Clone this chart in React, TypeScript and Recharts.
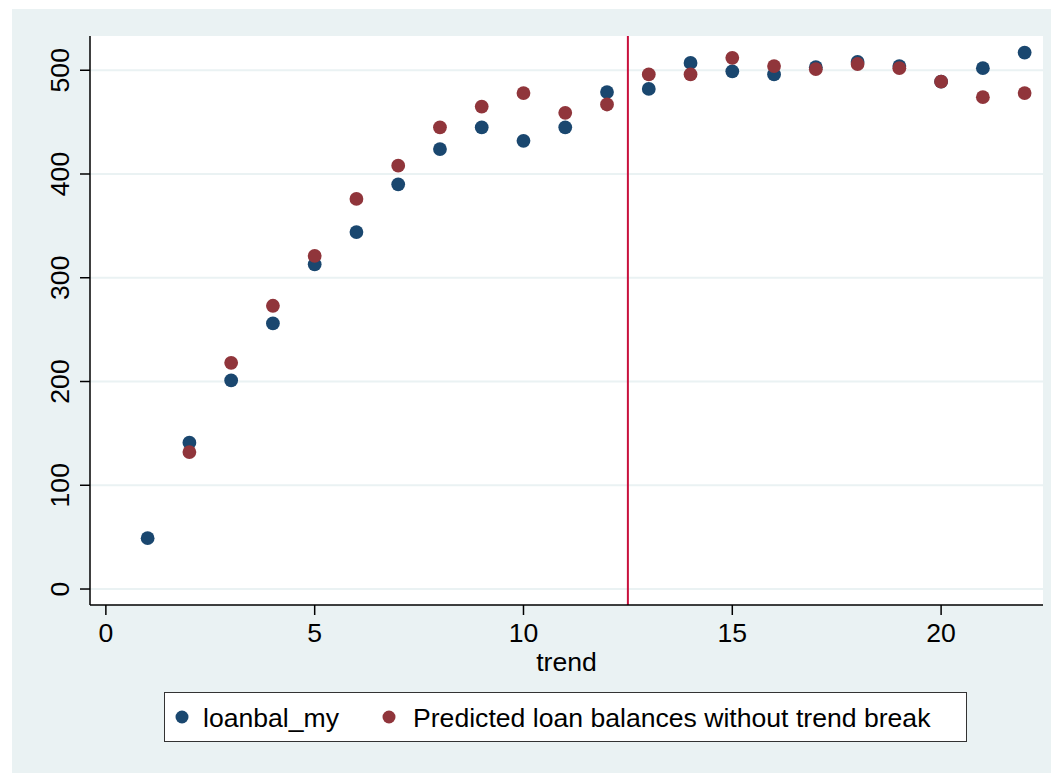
import React from "react";
import {
  ScatterChart,
  Scatter,
  XAxis,
  YAxis,
  CartesianGrid,
  ReferenceLine,
  Legend,
} from "recharts";

// Observation index (x axis)
const trend = [1, 2, 3, 4, 5, 6, 7, 8, 9, 10, 11, 12, 13, 14, 15, 16, 17, 18, 19, 20, 21, 22];

// Observed loan balances
const loanbalMy = [
  49, 141, 201, 256, 313, 344, 390, 424, 445, 432, 445, 479,
  482, 507, 499, 496, 503, 508, 504, 489, 502, 517,
];

// Predicted loan balances without trend break (no value for the first period)
const predicted: (number | null)[] = [
  null, 132, 218, 273, 321, 376, 408, 445, 465, 478, 459, 467,
  496, 496, 512, 504, 501, 506, 502, 489, 474, 478,
];

const xTicks = [0, 5, 10, 15, 20];
const yTicks = [0, 100, 200, 300, 400, 500];
const breakPoint = 12.5;

const seriesNames = ["loanbal_my", "Predicted loan balances without trend break"];
const BLUE = "#1a476f";
const MAROON = "#90353b";
const FONT = '"Liberation Sans", Arial, Helvetica, sans-serif';
const FONT_SIZE = 26.6;

const observedData = trend.map((t, i) => ({ x: t, y: loanbalMy[i] }));
const predictedData = trend
  .map((t, i) => ({ x: t, y: predicted[i] }))
  .filter((d) => d.y !== null);

const Dot = (props: any) => {
  const { cx, cy, fill } = props;
  if (cx == null || cy == null) return null;
  return <circle cx={cx} cy={cy} r={6.9} fill={fill} />;
};

const YTick = (props: any) => {
  const { x, y, payload } = props;
  const tx = x - 19;
  return (
    <text
      x={tx}
      y={y}
      dy="0.36em"
      textAnchor="middle"
      transform={`rotate(-90, ${tx}, ${y})`}
      fill="#000"
      fontSize={FONT_SIZE}
      fontFamily={FONT}
    >
      {payload.value}
    </text>
  );
};

const LegendBox = () => (
  <div
    style={{
      boxSizing: "border-box",
      width: 803,
      height: 50,
      border: "1.5px solid #333",
      background: "#fff",
      position: "relative",
      fontFamily: FONT,
      fontSize: FONT_SIZE,
      color: "#000",
    }}
  >
    <svg width={803} height={50} style={{ position: "absolute", left: -1.5, top: -1.5 }}>
      <circle cx={18} cy={25} r={6.5} fill={BLUE} />
      <text x={39} y={25} dy="0.36em" fontSize={FONT_SIZE} fontFamily={FONT}>
        {seriesNames[0]}
      </text>
      <circle cx={225} cy={25} r={6.5} fill={MAROON} />
      <text x={249} y={25} dy="0.36em" fontSize={FONT_SIZE} fontFamily={FONT}>
        {seriesNames[1]}
      </text>
    </svg>
  </div>
);

export default function App() {
  return (
    <div
      style={{
        position: "absolute",
        left: 0,
        top: 0,
        width: 1051,
        height: 773,
        background: "#fff",
        overflow: "hidden",
      }}
    >
      <div
        style={{
          position: "absolute",
          left: 12,
          top: 9,
          right: 0,
          bottom: 0,
          background: "#eaf2f3",
        }}
      />
      <div style={{ position: "absolute", left: 0, top: 0 }}>
        <ScatterChart
          width={1051}
          height={773}
          margin={{ top: 36, right: 8, bottom: 100, left: 0 }}
        >
          <CartesianGrid
            vertical={false}
            horizontal
            fill="#ffffff"
            stroke="#eaf2f3"
            strokeWidth={2}
            horizontalValues={yTicks}
          />
          <XAxis
            type="number"
            dataKey="x"
            domain={[-0.38, 22.44]}
            ticks={xTicks}
            allowDataOverflow
            height={68}
            tickSize={10}
            tickMargin={8}
            axisLine={{ stroke: "#000", strokeWidth: 1.5 }}
            tickLine={{ stroke: "#000", strokeWidth: 1.5 }}
            tick={{ fill: "#000", fontSize: FONT_SIZE, fontFamily: FONT }}
            label={{
              value: "trend",
              position: "insideBottom",
              offset: 2,
              fill: "#000",
              fontSize: FONT_SIZE,
              fontFamily: FONT,
            }}
          />
          <YAxis
            type="number"
            dataKey="y"
            domain={[-15.4, 533]}
            ticks={yTicks}
            allowDataOverflow
            width={90}
            tickSize={10}
            tickMargin={2}
            axisLine={{ stroke: "#000", strokeWidth: 1.5 }}
            tickLine={{ stroke: "#000", strokeWidth: 1.5 }}
            tick={<YTick />}
          />
          <Legend
            layout="horizontal"
            align="center"
            verticalAlign="middle"
            content={<LegendBox />}
            wrapperStyle={{ left: 164, top: 692, width: 803, height: 50 }}
          />
          <Scatter
            name={seriesNames[0]}
            data={observedData}
            fill={BLUE}
            shape={<Dot />}
            isAnimationActive={false}
          />
          <Scatter
            name={seriesNames[1]}
            data={predictedData}
            fill={MAROON}
            shape={<Dot />}
            isAnimationActive={false}
          />
          <ReferenceLine x={breakPoint} stroke="#c8103c" strokeWidth={2} />
        </ScatterChart>
      </div>
    </div>
  );
}
